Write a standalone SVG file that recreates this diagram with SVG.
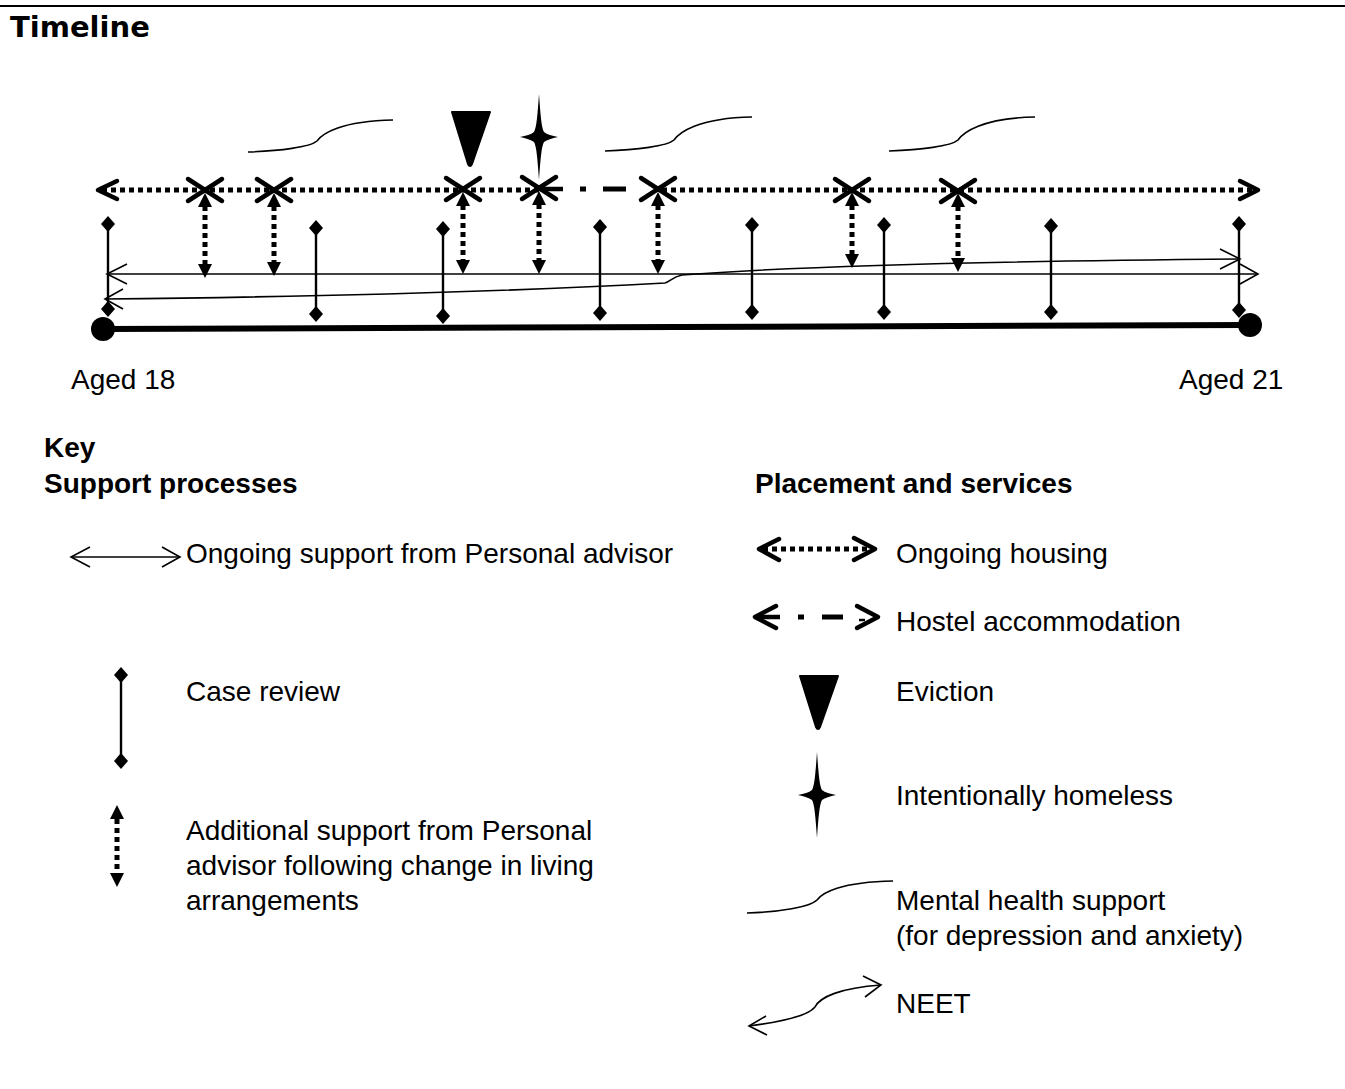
<svg xmlns="http://www.w3.org/2000/svg" width="1345" height="1089" viewBox="0 0 1345 1089">
<style>
.txt{font-family:"Liberation Sans",Arial,sans-serif;font-size:28px;fill:#000}
.bold{font-weight:bold}
.title{font-family:"DejaVu Sans",Verdana,sans-serif;font-weight:bold;font-size:29px}
.thin{fill:none;stroke:#000;stroke-width:1.6}
.cr{fill:none;stroke:#000;stroke-width:2.4}
.dot{fill:none;stroke:#000;stroke-width:5;stroke-dasharray:5 4}
.chev{fill:none;stroke:#000;stroke-width:4.5;stroke-linecap:round;stroke-linejoin:round}
</style>
<defs>
<polygon id="dia" points="0,-8 7,0 0,8 -7,0" fill="#000"/>
<polygon id="up" points="0,0 -7,14 7,14" fill="#000"/>
<polygon id="dn" points="0,0 -7,-14 7,-14" fill="#000"/>
<path id="xm" d="M-17,-11 L0,0 L-17,11 M17,-11 L0,0 L17,11" class="chev"/>
<path id="star" d="M0,-43 C1.5,-22 2.5,-9 5,-5 C8,-2.5 13,-1.5 19,0 C13,1.5 8,2.5 5,5 C2.5,9 1.5,22 0,43 C-1.5,22 -2.5,9 -5,5 C-8,2.5 -13,1.5 -19,0 C-13,-1.5 -8,-2.5 -5,-5 C-2.5,-9 -1.5,-22 0,-43 Z" fill="#000"/>
</defs>

<line x1="0" y1="6" x2="1345" y2="6" stroke="#000" stroke-width="2.2"/>
<text class="title" x="10" y="37">Timeline</text>

<g id="connectors">
  <g id="pa-support">
    <line x1="107" y1="274" x2="1258" y2="274" class="thin"/>
    <path d="M127,264 L107,274 L127,284 M1240,264 L1258,274 L1240,284" class="thin"/>
  </g>
  <g id="neet-line">
    <path d="M105,299 C300,297 500,292 665,283 C670,282 672,277 682,275 C800,266 1000,261 1240,259" class="thin"/>
    <path d="M123,289 L105,299 L123,309 M1220,249 L1240,259 L1220,269" class="thin"/>
  </g>
  <g id="timeline-axis">
    <line x1="103" y1="329" x2="1250" y2="325" stroke="#000" stroke-width="6"/>
    <circle cx="103" cy="329" r="12" fill="#000"/>
    <circle cx="1250" cy="325" r="12" fill="#000"/>
  </g>
  <g id="housing-line">
    <line x1="102" y1="190" x2="539" y2="190" class="dot"/>
    <line x1="662" y1="190" x2="1254" y2="190" class="dot"/>
    <path d="M117,181 L98,190 L117,199" class="chev"/>
    <path d="M1240,181 L1258,190 L1240,199" class="chev"/>
    <line x1="540" y1="189" x2="563" y2="189" stroke="#000" stroke-width="4.5"/>
    <rect x="580" y="186.5" width="6" height="5" fill="#000"/>
    <line x1="603" y1="189" x2="626" y2="189" stroke="#000" stroke-width="5"/>
    <use href="#xm" x="205" y="190"/>
    <use href="#xm" x="274" y="190"/>
    <use href="#xm" x="463" y="189"/>
    <use href="#xm" x="539" y="188"/>
    <use href="#xm" x="658" y="189"/>
    <use href="#xm" x="852" y="190"/>
    <use href="#xm" x="958" y="191"/>
  </g>
  <g id="add-support">
    <line x1="205" y1="206" x2="205" y2="265" class="dot"/><use href="#up" x="205" y="193"/><use href="#dn" x="205" y="278"/>
    <line x1="274" y1="206" x2="274" y2="263" class="dot"/><use href="#up" x="274" y="193"/><use href="#dn" x="274" y="276"/>
    <line x1="463" y1="205" x2="463" y2="261" class="dot"/><use href="#up" x="463" y="192"/><use href="#dn" x="463" y="274"/>
    <line x1="539" y1="204" x2="539" y2="261" class="dot"/><use href="#up" x="539" y="191"/><use href="#dn" x="539" y="274"/>
    <line x1="658" y1="205" x2="658" y2="261" class="dot"/><use href="#up" x="658" y="192"/><use href="#dn" x="658" y="274"/>
    <line x1="852" y1="205" x2="852" y2="255" class="dot"/><use href="#up" x="852" y="192"/><use href="#dn" x="852" y="268"/>
    <line x1="958" y1="206" x2="958" y2="259" class="dot"/><use href="#up" x="958" y="193"/><use href="#dn" x="958" y="272"/>
  </g>
  <g id="case-reviews">
    <line x1="108" y1="224" x2="108" y2="309" class="cr"/><use href="#dia" x="108" y="224"/><use href="#dia" x="108" y="309"/>
    <line x1="316" y1="228" x2="316" y2="314" class="cr"/><use href="#dia" x="316" y="228"/><use href="#dia" x="316" y="314"/>
    <line x1="443" y1="229" x2="443" y2="316" class="cr"/><use href="#dia" x="443" y="229"/><use href="#dia" x="443" y="316"/>
    <line x1="600" y1="227" x2="600" y2="313" class="cr"/><use href="#dia" x="600" y="227"/><use href="#dia" x="600" y="313"/>
    <line x1="752" y1="225" x2="752" y2="312" class="cr"/><use href="#dia" x="752" y="225"/><use href="#dia" x="752" y="312"/>
    <line x1="884" y1="225" x2="884" y2="312" class="cr"/><use href="#dia" x="884" y="225"/><use href="#dia" x="884" y="312"/>
    <line x1="1051" y1="226" x2="1051" y2="312" class="cr"/><use href="#dia" x="1051" y="226"/><use href="#dia" x="1051" y="312"/>
    <line x1="1239" y1="224" x2="1239" y2="310" class="cr"/><use href="#dia" x="1239" y="224"/><use href="#dia" x="1239" y="310"/>
  </g>
  <g id="mental-health">
    <path d="M248,152 C280,151 310,147 317,141 C322,134 340,121 393,120" class="thin"/>
    <path d="M605,151 C637,150 667,146 674,140 C679,133 697,118 752,117" class="thin"/>
    <path d="M889,151 C921,150 951,146 958,140 C963,133 981,118 1035,117" class="thin"/>
  </g>
</g>

<g id="node-eviction">
  <path d="M452,112 L490,112 L472,164 Q470,168 468,164 Z" fill="#000" stroke="#000" stroke-width="2" stroke-linejoin="round"/>
</g>
<g id="node-homeless">
  <use href="#star" x="539" y="137"/>
</g>

<g id="labels">
  <text class="txt" x="71" y="389">Aged 18</text>
  <text class="txt" x="1179" y="389">Aged 21</text>
</g>

<g id="key">
  <text class="txt bold" x="44" y="457">Key</text>
  <text class="txt bold" x="44" y="493">Support processes</text>
  <text class="txt bold" x="755" y="493">Placement and services</text>

  <g id="key-pa">
    <line x1="71" y1="557" x2="180" y2="557" class="thin"/>
    <path d="M90,547 L71,557 L90,567 M162,547 L180,557 L162,567" class="thin"/>
    <text class="txt" x="186" y="563">Ongoing support from Personal advisor</text>
  </g>
  <g id="key-case">
    <line x1="121" y1="675" x2="121" y2="761" class="cr"/><use href="#dia" x="121" y="675"/><use href="#dia" x="121" y="761"/>
    <text class="txt" x="186" y="701">Case review</text>
  </g>
  <g id="key-add">
    <line x1="117" y1="819" x2="117" y2="873" class="dot"/><use href="#up" x="117" y="805"/><use href="#dn" x="117" y="887"/>
    <text class="txt" x="186" y="840">Additional support from Personal</text>
    <text class="txt" x="186" y="875">advisor following change in living</text>
    <text class="txt" x="186" y="910">arrangements</text>
  </g>
  <g id="key-housing">
    <line x1="763" y1="549" x2="870" y2="549" class="dot"/>
    <path d="M779,539 L759,549 L779,560 M854,538 L875,549 L854,560" class="chev"/>
    <text class="txt" x="896" y="563">Ongoing housing</text>
  </g>
  <g id="key-hostel">
    <path d="M776,606 L755,617 L776,628" class="chev"/>
    <line x1="756" y1="617" x2="780" y2="617" stroke="#000" stroke-width="4.5"/>
    <rect x="798" y="614.5" width="6" height="5" fill="#000"/>
    <line x1="822" y1="617" x2="843" y2="617" stroke="#000" stroke-width="5"/>
    <path d="M857,606 L878,617 L857,628" class="chev"/>
    <line x1="859" y1="620" x2="865" y2="620" stroke="#000" stroke-width="2.5"/>
    <text class="txt" x="896" y="631">Hostel accommodation</text>
  </g>
  <g id="key-eviction">
    <path d="M800,676 L838,676 L820,727 Q818,731 816,727 Z" fill="#000" stroke="#000" stroke-width="2" stroke-linejoin="round"/>
    <text class="txt" x="896" y="701">Eviction</text>
  </g>
  <g id="key-homeless">
    <use href="#star" x="817" y="795"/>
    <text class="txt" x="896" y="805">Intentionally homeless</text>
  </g>
  <g id="key-mental">
    <path d="M747,913 C780,912 810,907 817,900 C822,893 840,882 893,881" class="thin"/>
    <text class="txt" x="896" y="910">Mental health support</text>
    <text class="txt" x="896" y="945">(for depression and anxiety)</text>
  </g>
  <g id="key-neet">
    <path d="M749,1026 C780,1022 808,1016 815,1007 C820,997 840,988 881,985" class="thin"/>
    <path d="M766,1016 L749,1026 L767,1035 M863,976 L881,985 L865,997" class="thin"/>
    <text class="txt" x="896" y="1013">NEET</text>
  </g>
</g>
</svg>
